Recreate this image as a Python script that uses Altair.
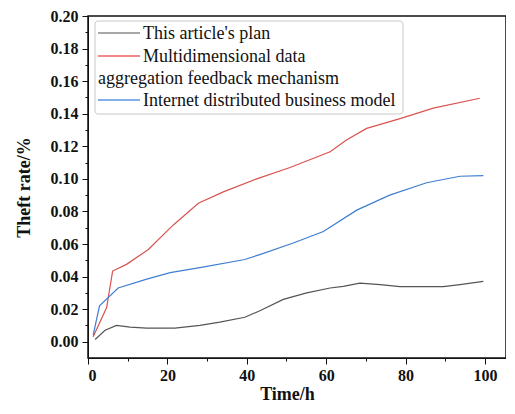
import altair as alt
import pandas as pd

# ---- data ----
plan_x = [1.8, 4.3, 7.2, 10.6, 14.8, 21.9, 28.2, 33.2, 39.5, 43.3, 49.2, 55.1, 61, 64.3, 68.5, 73.6, 78.6, 89.5, 93.7, 99.6]
plan_y = [0.0014, 0.007, 0.010, 0.009, 0.0083, 0.0083, 0.010, 0.012, 0.015, 0.019, 0.026, 0.030, 0.033, 0.034, 0.036, 0.035, 0.0338, 0.0338, 0.035, 0.037]

multi_x = [1.3, 4.7, 6.2, 9.7, 15.2, 21.5, 27.8, 34.1, 42.5, 50.9, 61, 65.2, 70.2, 78.6, 87, 98.7]
multi_y = [0.003, 0.021, 0.0434, 0.0475, 0.0566, 0.0717, 0.085, 0.092, 0.100, 0.107, 0.1166, 0.124, 0.131, 0.137, 0.1434, 0.1495]

inet_x = [1.3, 2.9, 7.6, 14.8, 20.7, 28.2, 39.5, 43.3, 51.7, 59.3, 67.7, 76, 85.3, 93.7, 99.6]
inet_y = [0.004, 0.022, 0.033, 0.0384, 0.0424, 0.0455, 0.0505, 0.0535, 0.0606, 0.0677, 0.0808, 0.090, 0.0976, 0.1016, 0.102]

series_names = ["This article's plan",
                "Multidimensional data aggregation feedback mechanism",
                "Internet distributed business model"]
series_colors = ["#555555", "#d9534f", "#3f7fd0"]
legend_colors = ["#8a8a8a", "#f06060", "#5b93e0"]
x_ticks = [0, 10, 20, 30, 40, 50, 60, 70, 80, 90, 100]
y_ticks = [round(i * 0.01, 2) for i in range(0, 21)]

rows = []
for name, xs, ys in zip(series_names, [plan_x, multi_x, inet_x], [plan_y, multi_y, inet_y]):
    for i, (a, b) in enumerate(zip(xs, ys)):
        rows.append({"series": name, "t": a, "rate": b, "order": i})
df = pd.DataFrame(rows)

FONT = "Liberation Serif"
W, H = 418, 342

lines = alt.Chart(df).mark_line(strokeWidth=1.2).encode(
    x=alt.X("t:Q", scale=alt.Scale(domain=[0, 105.3], nice=False, zero=False),
            axis=alt.Axis(values=x_ticks, title="Time/h", titleX=199,
                          labelExpr="datum.value % 20 == 0 ? datum.label : ''",
                          tickSize={"condition": {"test": "datum.value % 20 == 0", "value": 6}, "value": 3},
                          labelOverlap=False, grid=False, labelPadding=3, titlePadding=2)),
    y=alt.Y("rate:Q", scale=alt.Scale(domain=[-0.01, 0.20], nice=False, zero=False),
            axis=alt.Axis(values=y_ticks, title="Theft rate/%",
                          labelExpr="round(datum.value*100) % 2 == 0 ? format(datum.value, '.2f') : ''",
                          tickSize={"condition": {"test": "round(datum.value*100) % 2 == 0", "value": 6}, "value": 3},
                          labelOverlap=False, grid=False, labelPadding=4, titlePadding=17)),
    color=alt.Color("series:N", scale=alt.Scale(domain=series_names, range=series_colors), legend=None),
    order="order:Q",
)

# ---- hand-drawn legend (as in the reference) ----
box = alt.Chart(pd.DataFrame({"a": [0]})).mark_rect(
    fill="white", stroke="#c8c8c8", strokeWidth=1, cornerRadius=3
).encode(x=alt.value(7), x2=alt.value(315), y=alt.value(5), y2=alt.value(98))

legend_layers = [box]
sym_y = [17, 40, 84]
for name, col, yy in zip(series_names, legend_colors, sym_y):
    legend_layers.append(
        alt.Chart(pd.DataFrame({"a": [0]})).mark_rule(color=col, strokeWidth=1.5).encode(
            x=alt.value(10), x2=alt.value(52), y=alt.value(yy))
    )
legend_texts = [("This article's plan", 55, 18),
                ("Multidimensional data", 55, 41),
                ("aggregation feedback mechanism", 10, 63),
                ("Internet distributed business model", 55, 85)]
for txt, xx, yy in legend_texts:
    legend_layers.append(
        alt.Chart(pd.DataFrame({"a": [0]})).mark_text(
            text=txt, align="left", baseline="middle", font=FONT, fontSize=18, color="#111111"
        ).encode(x=alt.value(xx), y=alt.value(yy))
    )

chart = alt.layer(lines, *legend_layers).properties(
    width=W, height=H,
    padding={"left": 80, "top": 8, "right": 0, "bottom": 45},
    autosize=alt.AutoSizeParams(type="none"),
).configure_view(
    stroke="#111111", strokeWidth=1.5
).configure_axis(
    labelFont=FONT, labelFontSize=16, labelFontWeight="bold", labelColor="#111111",
    titleFont=FONT, titleFontSize=18, titleFontWeight="bold", titleColor="#111111",
    domainColor="#111111", tickColor="#111111",
)

chart.save("out.html", embed_options={"renderer": "svg", "actions": False})
